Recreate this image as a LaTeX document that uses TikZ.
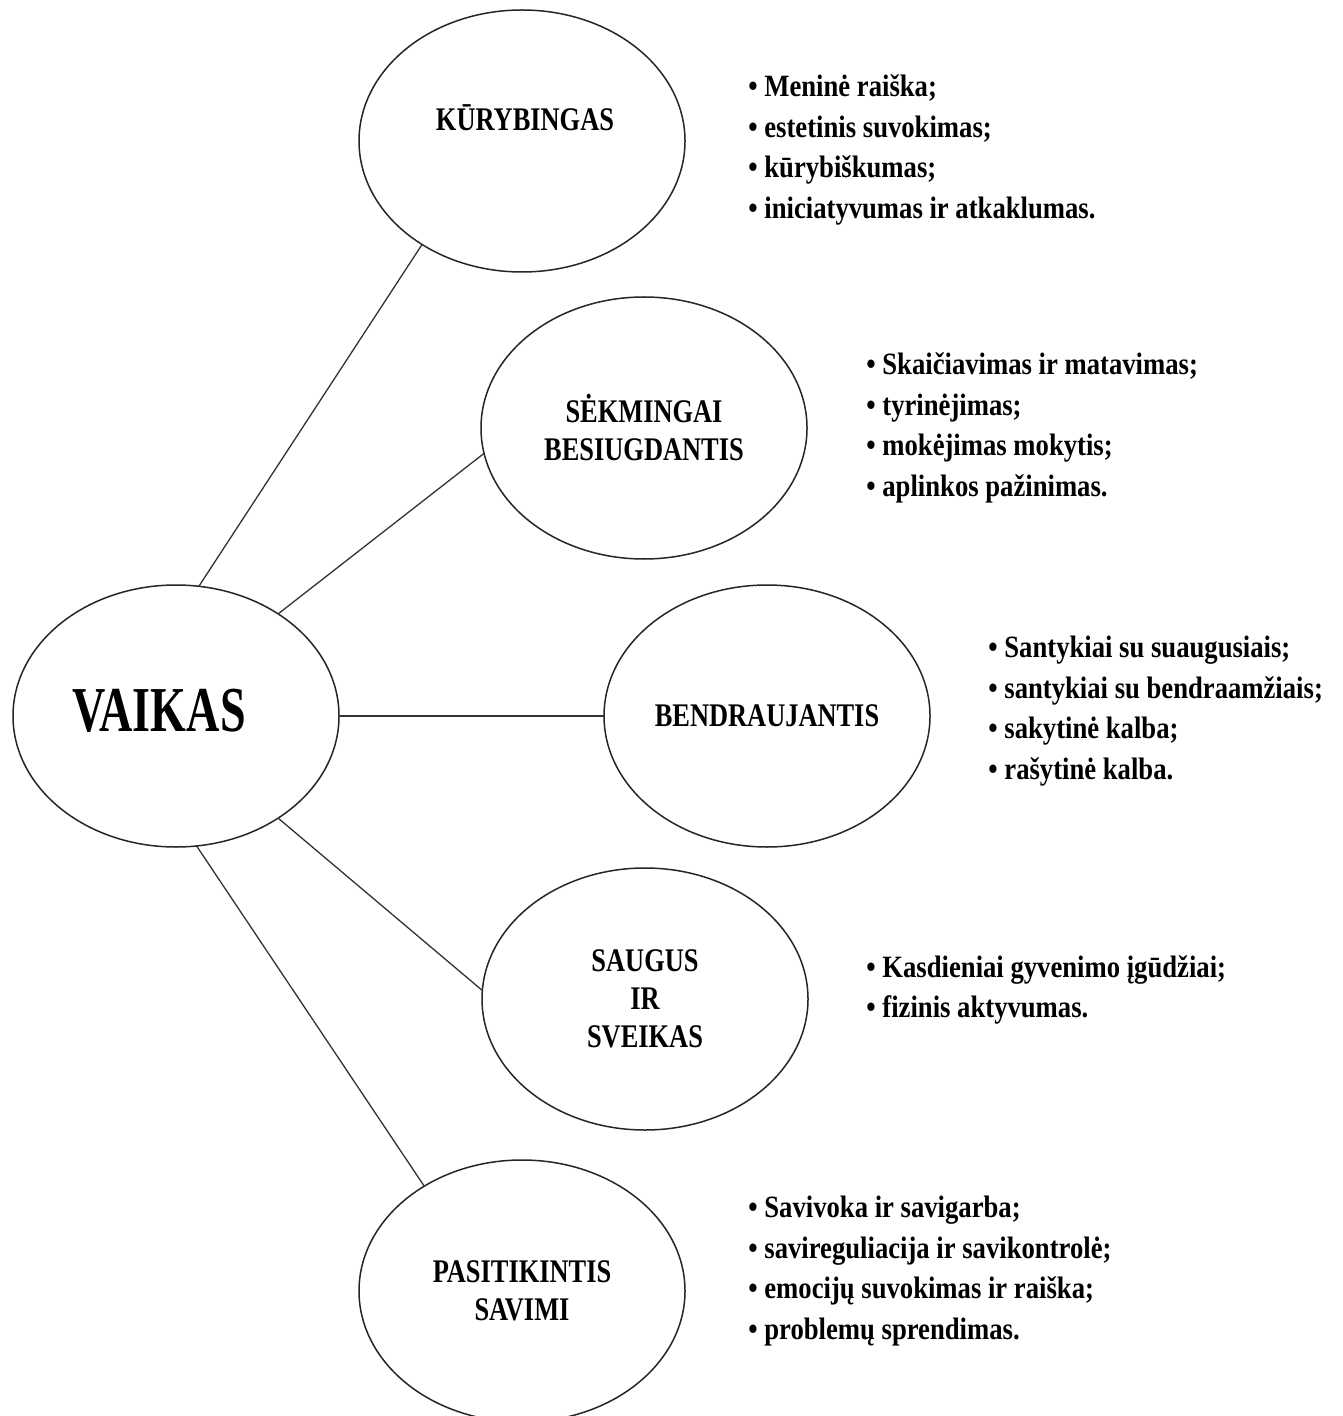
\documentclass[tikz,border=0pt]{standalone}
\usepackage{fontspec}
\setmainfont{Liberation Serif}
\newfontfamily\rootfont[FakeStretch=0.72]{Liberation Serif}
\newfontfamily\bubblefont[FakeStretch=0.8]{Liberation Serif}
\newfontfamily\itemfont[FakeStretch=0.86]{Liberation Serif}
\usetikzlibrary{positioning,shapes.geometric}

\begin{document}
\begin{tikzpicture}[x=0.5pt,y=-0.5pt,
  bubble/.style={draw=black!85,line width=0.75pt,ellipse,minimum width=163pt,minimum height=131pt,
    inner sep=0pt,outer sep=0pt,align=center,font=\bubblefont\bfseries\fontsize{16.5}{19}\selectfont},
  items/.style={inner sep=0pt,align=left,font=\itemfont\bfseries\fontsize{15.5}{20.25}\selectfont},
  link/.style={draw=black!80,line width=0.65pt}]
\useasboundingbox[fill=white] (0,0) rectangle (1342,1416);

% centre
\node[bubble] (vaikas) at (176,716) {};
\node[font=\rootfont\bfseries\fontsize{32}{36}\selectfont,inner sep=0pt] (vaikastxt) at (159,711) {VAIKAS};

% five areas
\node[bubble] (kur) at (522,141) {};
\node[font=\bubblefont\bfseries\fontsize{16.5}{19}\selectfont,inner sep=0pt] (kurtxt) at (525,118) {KŪRYBINGAS};
\node[bubble] (sek) at (644,428) {SĖKMINGAI\\BESIUGDANTIS};
\node[bubble] (bend) at (767,716) {BENDRAUJANTIS};
\node[bubble] (saug) at (645,999) {SAUGUS\\IR\\SVEIKAS};
\node[bubble] (pas) at (522,1291) {PASITIKINTIS\\SAVIMI};

\draw[link] (vaikas.80) -- (kur.226);
\draw[link] (vaikas.45) -- (sek.189);
\draw[link] (vaikas.0) -- (bend.180);
\draw[link] (vaikas.-45) -- (saug.177);
\draw[link] (vaikas.-81) -- (pas.133);

% lists
\node[items,right=31.5pt of kur,yshift=-4.5pt] (kurlist) {• Meninė raiška;\\• estetinis suvokimas;\\• kūrybiškumas;\\• iniciatyvumas ir atkaklumas.};
\node[items,right=29.5pt of sek] (seklist) {• Skaičiavimas ir matavimas;\\• tyrinėjimas;\\• mokėjimas mokytis;\\• aplinkos pažinimas.};
\node[items,right=29pt of bend,yshift=2.5pt] (bendlist) {• Santykiai su suaugusiais;\\• santykiai su bendraamžiais;\\• sakytinė kalba;\\• rašytinė kalba.};
\node[items,right=29pt of saug,yshift=4.5pt] (sauglist) {• Kasdieniai gyvenimo įgūdžiai;\\• fizinis aktyvumas.};
\node[items,right=31.5pt of pas,yshift=10pt] (paslist) {• Savivoka ir savigarba;\\• savireguliacija ir savikontrolė;\\• emocijų suvokimas ir raiška;\\• problemų sprendimas.};
\end{tikzpicture}
\end{document}
